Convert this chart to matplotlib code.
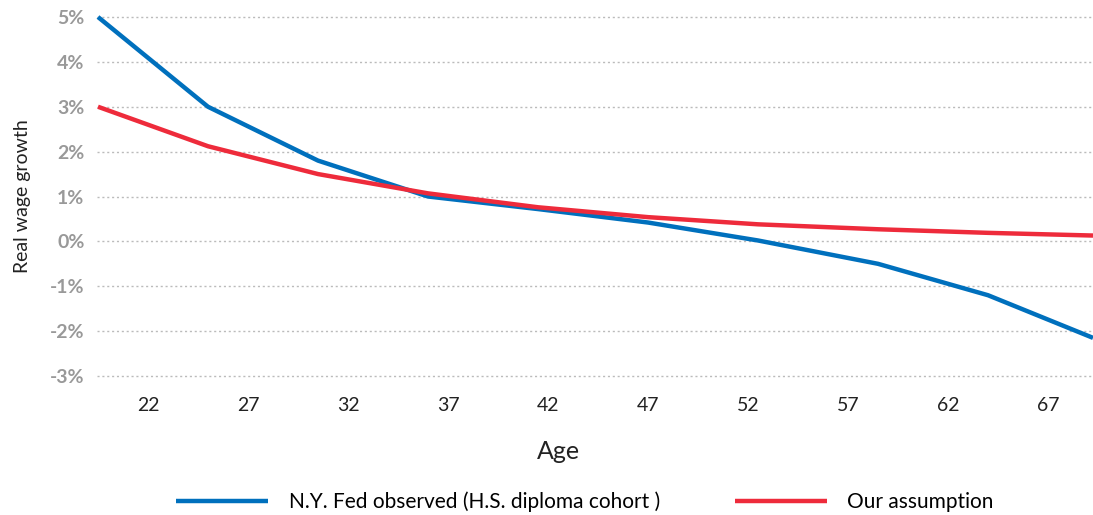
import matplotlib.pyplot as plt
from matplotlib.ticker import FuncFormatter

plt.rcParams['font.family'] = ['Lato', 'DejaVu Sans']

# Data
ages = [19.5, 25, 30.5, 36, 41.5, 47, 52.5, 58.5, 64, 69.25]
ny_fed = [5.0, 3.0, 1.8, 1.0, 0.72, 0.42, 0.02, -0.5, -1.2, -2.15]
our_assumption = [3.0, 2.12, 1.5, 1.07, 0.76, 0.54, 0.38, 0.27, 0.19, 0.13]
x_ticks = [22, 27, 32, 37, 42, 47, 52, 57, 62, 67]
y_ticks = [-3, -2, -1, 0, 1, 2, 3, 4, 5]

blue = '#0070BD'
red = '#EE2B3B'

fig = plt.figure(figsize=(10.93, 5.15), dpi=100)
ax = fig.add_axes([97 / 1093, 139 / 515, 996 / 1093, 359 / 515])

ax.plot(ages, ny_fed, color=blue, lw=3.2, clip_on=False, solid_capstyle='butt',
        label='N.Y. Fed observed (H.S. diploma cohort )', zorder=3)
ax.plot(ages, our_assumption, color=red, lw=3.2, clip_on=False, solid_capstyle='butt',
        label='Our assumption', zorder=3)

ax.set_xlim(19.45, 69.25)
ax.set_ylim(-3, 5)
ax.set_xticks(x_ticks)
ax.set_yticks(y_ticks)
ax.yaxis.set_major_formatter(FuncFormatter(lambda v, p: f'{int(v)}%'))

ax.grid(axis='y', color='#bbbbbb', linestyle=(0, (1.5, 2)), lw=1, clip_on=False)
ax.set_axisbelow(True)
for s in ax.spines.values():
    s.set_visible(False)

ax.tick_params(axis='x', length=0, pad=15, labelsize=14, labelcolor='#222222')
ax.tick_params(axis='y', length=0, pad=9, labelsize=14, labelcolor='#999999')
for t in ax.get_yticklabels():
    t.set_fontweight('bold')

ax.set_xlabel('Age', fontsize=18, color='#222222')
ax.xaxis.set_label_coords(0.463, -0.177)
ax.set_ylabel('Real wage growth', fontsize=14, color='#222222', labelpad=14)

fig.legend(loc='center', bbox_to_anchor=(585 / 1093, 13 / 515), ncol=2,
           frameon=False, fontsize=15, handlelength=4.4, handletextpad=1.0,
           columnspacing=3.6)

fig.savefig('out.png', dpi=100)
